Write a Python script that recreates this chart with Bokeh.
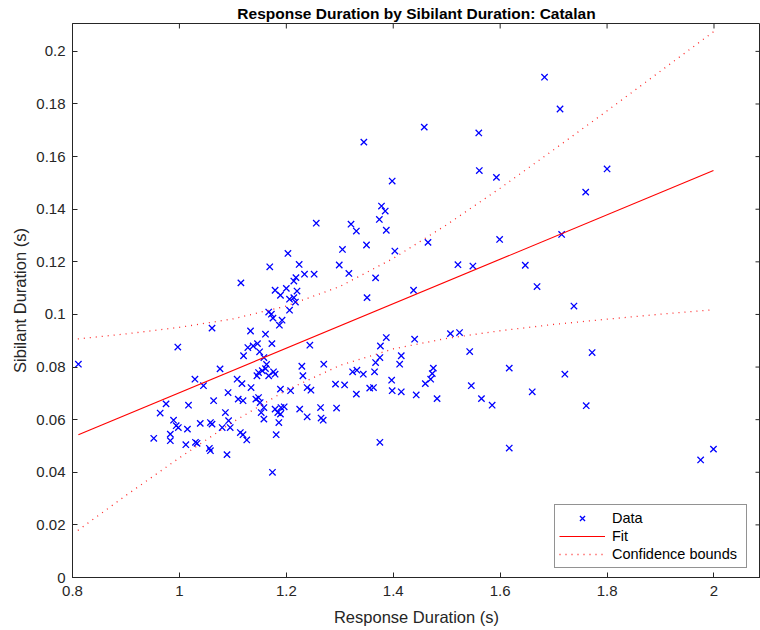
import math
from bokeh.plotting import figure
from bokeh.models import Range1d, FixedTicker, Legend, LegendItem, ColumnDataSource
from bokeh.embed import file_html
from bokeh.resources import INLINE

# ---- data ----
response_dur = [
    0.811, 1.683, 1.712, 1.800, 1.760, 1.715, 1.738, 1.772, 1.721, 1.761, 1.999, 1.975,
    1.458, 1.560, 1.345, 1.561, 1.593, 1.398, 1.378, 1.385, 1.374, 1.256, 1.321, 1.331,
    1.387, 1.599, 1.465, 1.305, 1.350, 1.403, 1.299, 1.317, 1.521, 1.549, 1.647, 1.367,
    1.669, 1.438, 1.351,
    1.203, 1.169, 1.224, 1.234, 1.252, 1.115, 1.218, 1.214, 1.220, 1.200, 1.179, 1.189,
    1.206, 1.214, 1.217, 1.206, 1.167, 1.172, 1.175, 1.192, 1.187, 1.061, 1.133, 1.161,
    0.997, 1.120, 1.128, 1.138, 1.146, 1.150, 1.158, 1.173, 1.163, 1.155, 1.161, 1.145,
    1.167, 1.176, 1.179, 1.076, 1.029, 1.045, 1.108, 1.117, 1.134, 1.091, 1.110, 1.119,
    1.064, 0.975, 1.017, 0.964, 1.143, 1.148, 1.151, 1.158, 1.153, 1.158, 1.189, 1.208,
    1.179, 1.184, 1.190, 1.196, 1.189, 1.186, 1.181, 1.174, 1.225, 1.239, 1.239, 1.246,
    1.231, 1.229, 0.989, 0.994, 0.998, 0.983, 0.983, 0.952, 1.015, 1.039, 1.058, 1.061,
    1.012, 1.030, 1.033, 1.056, 1.058, 1.089, 1.086, 1.092, 1.080, 1.095, 1.114, 1.119,
    1.126, 1.244, 1.270, 1.292, 1.294, 1.264, 1.265, 1.269,
    1.387, 1.376, 1.440, 1.507, 1.524, 1.375, 1.367, 1.365, 1.415, 1.412, 1.324, 1.332,
    1.344, 1.543, 1.617, 1.309, 1.331, 1.356, 1.363, 1.397, 1.398, 1.415, 1.443, 1.475,
    1.473, 1.470, 1.460, 1.482, 1.546, 1.565, 1.585, 1.375, 1.617, 1.660, 1.148,
]
sibilant_dur = [
    0.0811, 0.1902, 0.1781, 0.1553, 0.1465, 0.1304, 0.1032, 0.0855, 0.0773, 0.0653, 0.0488, 0.0447,
    0.1712, 0.1690, 0.1655, 0.1547, 0.1521, 0.1507, 0.1412, 0.1393, 0.1361, 0.1347, 0.1343, 0.1317,
    0.1320, 0.1285, 0.1274, 0.1247, 0.1264, 0.1241, 0.1188, 0.1156, 0.1189, 0.1184, 0.1187, 0.1139,
    0.1106, 0.1092, 0.1064,
    0.1232, 0.1181, 0.1190, 0.1153, 0.1153, 0.1120, 0.1140, 0.1127, 0.1089, 0.1099, 0.1092, 0.1073,
    0.1058, 0.1064, 0.1047, 0.1016, 0.1009, 0.1001, 0.0986, 0.0978, 0.0959, 0.0948, 0.0937, 0.0925,
    0.0876, 0.0843, 0.0874, 0.0880, 0.0889, 0.0858, 0.0836, 0.0889, 0.0810, 0.0786, 0.0794, 0.0767,
    0.0767, 0.0782, 0.0773, 0.0793, 0.0754, 0.0729, 0.0754, 0.0737, 0.0722, 0.0703, 0.0678, 0.0672,
    0.0672, 0.0660, 0.0655, 0.0625, 0.0678, 0.0684, 0.0665, 0.0646, 0.0627, 0.0602, 0.0716, 0.0710,
    0.0640, 0.0627, 0.0646, 0.0649, 0.0621, 0.0589, 0.0543, 0.0400, 0.0640, 0.0611, 0.0722, 0.0712,
    0.0767, 0.0803, 0.0598, 0.0577, 0.0570, 0.0545, 0.0520, 0.0529, 0.0564, 0.0586, 0.0589, 0.0583,
    0.0505, 0.0514, 0.0510, 0.0491, 0.0482, 0.0467, 0.0627, 0.0596, 0.0570, 0.0570, 0.0551, 0.0543,
    0.0523, 0.0883, 0.0811, 0.0735, 0.0644, 0.0646, 0.0606, 0.0598,
    0.0912, 0.0880, 0.0906, 0.0927, 0.0931, 0.0836, 0.0817, 0.0782, 0.0843, 0.0811, 0.0782, 0.0788,
    0.0773, 0.0859, 0.0796, 0.0732, 0.0697, 0.0720, 0.0722, 0.0750, 0.0710, 0.0706, 0.0694, 0.0796,
    0.0775, 0.0754, 0.0737, 0.0680, 0.0729, 0.0680, 0.0655, 0.0514, 0.0492, 0.0706, 0.0779,
]

fit_x = [0.811, 1.999]
fit_y = [0.0543, 0.1547]

bound_x = [0.81, 0.9, 1.0, 1.1, 1.2, 1.3, 1.4, 1.5, 1.6, 1.7, 1.8, 1.9, 2.0]
upper_bound = [0.0907, 0.0926, 0.0951, 0.0983, 0.1032, 0.1106, 0.1213, 0.1341,
               0.1480, 0.1626, 0.1774, 0.1925, 0.2076]
lower_bound = [0.0179, 0.0312, 0.0455, 0.0591, 0.0712, 0.0806, 0.0869, 0.0909,
               0.0938, 0.0962, 0.0982, 0.1001, 0.1018]

x_ticks = [0.8, 1.0, 1.2, 1.4, 1.6, 1.8, 2.0]
x_tick_labels = ["0.8", "1", "1.2", "1.4", "1.6", "1.8", "2"]
y_ticks = [0, 0.02, 0.04, 0.06, 0.08, 0.1, 0.12, 0.14, 0.16, 0.18, 0.2]
y_tick_labels = ["0", "0.02", "0.04", "0.06", "0.08", "0.1", "0.12", "0.14",
                 "0.16", "0.18", "0.2"]

FONT = "Liberation Sans"
AX = "#262626"

p = figure(width=760, height=630, output_backend="svg", toolbar_location=None,
           x_range=Range1d(0.8, 2.087), y_range=Range1d(0, 0.2106),
           min_border_left=72, min_border_right=0, min_border_top=22,
           min_border_bottom=53, background_fill_color="white",
           border_fill_color="white")
p.grid.visible = False
p.outline_line_color = AX
p.outline_line_width = 1

p.title.text = "Response Duration by Sibilant Duration: Catalan"
p.title.text_font = FONT
p.title.text_font_size = "15.5px"
p.title.text_font_style = "bold"
p.title.text_color = "black"
p.title.align = "center"
p.title.standoff = 4

# inward box ticks on the top and right edges (half of each dash is clipped by the frame)
top_y = [p.y_range.end] * len(x_ticks)
right_x = [p.x_range.end] * len(y_ticks)
p.scatter(x_ticks, top_y, marker="dash", angle=math.pi / 2, size=10,
          line_color=AX, line_width=1)
p.scatter(right_x, y_ticks, marker="dash", size=10, line_color=AX, line_width=1)

src = ColumnDataSource(dict(x=response_dur, y=sibilant_dur))
r_data = p.scatter("x", "y", source=src, marker="x", size=9, line_width=1.3,
                   line_color="#0000FF")
r_fit = p.line(fit_x, fit_y, line_color="#FF0000", line_width=1.1)
r_up = p.line(bound_x, upper_bound, line_color="#FF0000", line_width=1.3,
              line_dash="1 5", line_alpha=0.85)
r_lo = p.line(bound_x, lower_bound, line_color="#FF0000", line_width=1.3,
              line_dash="1 5", line_alpha=0.85)

def style_axis(ax, ticks, labels):
    ax.ticker = FixedTicker(ticks=ticks)
    ax.major_label_overrides = {t: l for t, l in zip(ticks, labels)}
    ax.minor_tick_line_color = None
    ax.major_tick_in = 5
    ax.major_tick_out = 0
    ax.axis_line_color = AX
    ax.major_tick_line_color = AX
    ax.major_label_text_font = FONT
    ax.major_label_text_color = AX
    ax.major_label_text_font_size = "15px"
    ax.axis_label_text_font = FONT
    ax.axis_label_text_color = AX
    ax.axis_label_text_font_style = "normal"
    ax.axis_label_text_font_size = "16.5px"

xa = p.xaxis[0]
style_axis(xa, x_ticks, x_tick_labels)
xa.axis_label = "Response Duration (s)"
xa.major_label_standoff = 8
xa.axis_label_standoff = 9

ya = p.yaxis[0]
style_axis(ya, y_ticks, y_tick_labels)
ya.axis_label = "Sibilant Duration (s)"
ya.major_label_standoff = 7
ya.axis_label_standoff = 4

legend = Legend(items=[
    LegendItem(label="Data", renderers=[r_data]),
    LegendItem(label="Fit", renderers=[r_fit]),
    LegendItem(label="Confidence bounds", renderers=[r_up]),
], location=(482, 9))
legend.label_text_font = FONT
legend.label_text_font_size = "14.5px"
legend.label_text_color = "black"
legend.border_line_color = AX
legend.border_line_width = 1
legend.background_fill_color = "white"
legend.background_fill_alpha = 1
legend.glyph_width = 46
legend.glyph_height = 18
legend.label_height = 18
legend.label_width = 130
legend.spacing = 0
legend.padding = 4
legend.margin = 0
legend.label_standoff = 7
p.add_layout(legend)

open("out.html", "w").write(file_html(p, INLINE))
